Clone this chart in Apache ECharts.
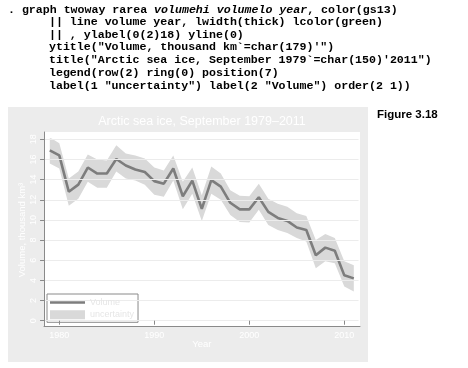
<!DOCTYPE html>
<html><head><meta charset="utf-8">
<script src="https://cdn.jsdelivr.net/npm/echarts@6/dist/echarts.min.js"></script>
<style>html,body{margin:0;padding:0;background:#fff}#c{width:468px;height:368px}</style>
</head><body><div id="c"></div>
<script>
var years = [1979,1980,1981,1982,1983,1984,1985,1986,1987,1988,1989,1990,1991,1992,1993,1994,1995,1996,1997,1998,1999,2000,2001,2002,2003,2004,2005,2006,2007,2008,2009,2010,2011];
var volume = [16.9,16.4,12.8,13.5,15.2,14.6,14.6,16.05,15.4,15.0,14.75,13.85,13.6,15.1,12.35,13.9,11.1,13.95,13.3,11.7,11.05,11.05,12.25,10.8,10.2,9.9,9.25,9.0,6.5,7.25,6.95,4.5,4.2];
var volumehi = [18.2,17.6,14.1,14.8,16.5,16.0,15.9,17.4,16.6,16.4,16.1,15.2,14.9,16.4,13.8,15.2,12.45,15.3,14.6,12.95,12.4,12.35,13.6,12.1,11.6,11.3,10.65,10.4,8.0,8.6,8.2,5.9,5.5];
var volumelo = [15.6,15.1,11.4,12.1,13.8,13.2,13.2,14.8,14.1,13.9,13.5,12.5,12.3,13.9,11.05,12.6,9.9,12.6,12.0,10.5,9.8,9.75,11.0,9.5,9.0,8.7,8.2,7.85,5.2,5.9,5.7,3.4,2.9];
var yTicks = [0,2,4,6,8,10,12,14,16,18];
var xTickYears = [1980,1990,2000,2010];

var codeLines = [
  {x:8, parts:[['n','. graph twoway rarea '],['i','volumehi volumelo year'],['n',', color(gs13)']]},
  {x:49, parts:[['n','|| line volume year, lwidth(thick) lcolor(green)']]},
  {x:49, parts:[['n','|| , ylabel(0(2)18) yline(0)']]},
  {x:49, parts:[['n','ytitle("Volume, thousand km`=char(179)\'")']]},
  {x:49, parts:[['n','title("Arctic sea ice, September 1979`=char(150)\'2011")']]},
  {x:49, parts:[['n','legend(row(2) ring(0) position(7)']]},
  {x:49, parts:[['n','label(1 "uncertainty") label(2 "Volume") order(2 1))']]}
];
var codeY = [10, 22.5, 35, 47.5, 60.5, 73.5, 86];

var mono = {fontFamily:'Liberation Mono', fontWeight:'bold', fontSize:11.6, fill:'#000', color:'#000'};
var graphics = [
  {type:'rect', z:-10, shape:{x:8,y:107,width:360,height:255}, style:{fill:'#ececec'}},
  {type:'text', x:202, y:122, style:{text:'Arctic sea ice, September 1979\u20132011', fill:'#ffffff', font:'12.5px "Liberation Sans"', textAlign:'center', textVerticalAlign:'middle'}},
  {type:'text', x:377, y:115, style:{text:'Figure 3.18', fill:'#000', font:'bold 11.5px "Liberation Sans"', textAlign:'left', textVerticalAlign:'middle'}}
];
codeLines.forEach(function(l, k){
  var txt = l.parts.map(function(p){ return '{'+p[0]+'|'+p[1]+'}'; }).join('');
  graphics.push({type:'text', x:l.x, y:codeY[k], style:{
    text: txt, textVerticalAlign:'middle',
    rich:{
      n: Object.assign({}, mono),
      i: Object.assign({}, mono, {fontStyle:'italic'})
    }
  }});
});

var diff = volumehi.map(function(h,i){ return +(h - volumelo[i]).toFixed(3); });
var cats = years.map(String);
var labelFont = 'Liberation Sans';

var chart = echarts.init(document.getElementById('c'), null, {renderer:'canvas'});
chart.setOption({
  animation:false,
  graphic: graphics,
  grid:[
    {left:45.05, right:109.45, top:139.3, bottom:47.3, z:3},
    {left:44, right:108, top:132, bottom:42, show:true, backgroundColor:'#ffffff', borderWidth:0, z:1}
  ],
  xAxis:[
    {type:'category', gridIndex:0, data:cats, boundaryGap:true, offset:5.3, z:4,
     name:'Year', nameLocation:'middle', nameGap:13, nameMoveOverlap:false,
     nameTextStyle:{color:'#ffffff', fontSize:9.5, fontFamily:labelFont},
     axisLine:{show:false},
     axisTick:{show:true, length:4, alignWithLabel:true, lineStyle:{color:'#8a8a8a'},
       interval:function(i,v){ return xTickYears.indexOf(+v) >= 0; }},
     axisLabel:{color:'#ffffff', fontSize:9, fontFamily:labelFont, margin:5,
       interval:function(i,v){ return xTickYears.indexOf(+v) >= 0; }},
     splitLine:{show:false}},
    {type:'value', gridIndex:1, min:0, max:1, z:4,
     axisLine:{show:true, lineStyle:{color:'#8a8a8a', width:1}},
     axisTick:{show:false}, axisLabel:{show:false}, splitLine:{show:false}}
  ],
  yAxis:[
    {type:'value', gridIndex:0, min:yTicks[0], max:yTicks[yTicks.length-1], interval:2, offset:1, z:4,
     name:'Volume, thousand km\u00b3', nameLocation:'middle', nameGap:17, nameRotate:90, nameMoveOverlap:false,
     nameTextStyle:{color:'#ffffff', fontSize:9.5, fontFamily:labelFont},
     axisLine:{show:false},
     axisTick:{show:true, length:4, lineStyle:{color:'#8a8a8a'}},
     axisLabel:{color:'#ffffff', fontSize:9, fontFamily:labelFont, rotate:90, margin:6},
     splitLine:{show:true, lineStyle:{color:'#ececec', width:1}}},
    {type:'value', gridIndex:1, min:0, max:1, z:4,
     axisLine:{show:true, lineStyle:{color:'#8a8a8a', width:1}},
     axisTick:{show:false}, axisLabel:{show:false}, splitLine:{show:false}}
  ],
  legend:{
    left:47, top:294, orient:'vertical', itemWidth:35, itemHeight:9, itemGap:3.3,
    padding:[4,4,3,3], backgroundColor:'#ffffff', borderColor:'#8a8a8a', borderWidth:1, borderRadius:0,
    textStyle:{color:'#e6e6e6', fontSize:9, fontFamily:labelFont},
    data:[{name:'Volume', icon:'path://M0,0H35V2.6H0Z'}, {name:'uncertainty', icon:'rect'}]
  },
  series:[
    {name:'lo', type:'line', xAxisIndex:0, yAxisIndex:0, data:volumelo, stack:'band',
     symbol:'none', lineStyle:{opacity:0}, silent:true, z:2},
    {name:'uncertainty', type:'line', xAxisIndex:0, yAxisIndex:0, data:diff, stack:'band',
     symbol:'none', lineStyle:{opacity:0}, itemStyle:{color:'#d9d9d9'},
     areaStyle:{color:'#d9d9d9', opacity:1}, silent:true, z:2},
    {name:'Volume', type:'line', xAxisIndex:0, yAxisIndex:0, data:volume,
     symbol:'none', itemStyle:{color:'#7d7d7d'}, lineStyle:{color:'#7d7d7d', width:2.6}, z:3}
  ]
});
</script></body></html>
